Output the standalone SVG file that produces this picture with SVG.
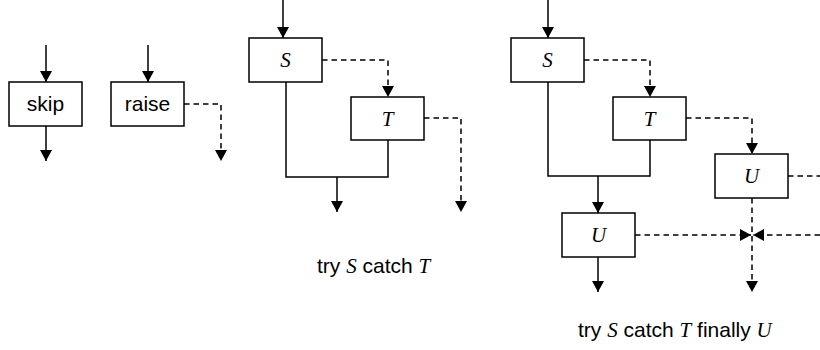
<svg xmlns="http://www.w3.org/2000/svg" width="820" height="350" viewBox="0 0 820 350">
<style>
.box{fill:#fff;stroke:#000;stroke-width:1.5}
.ln{fill:none;stroke:#000;stroke-width:1.5}
.arr{marker-end:url(#ah)}
.dash{stroke-dasharray:5.5,4}
.sans{font-family:"Liberation Sans",Arial,sans-serif;font-size:21px;fill:#000}
.it{font-family:"Liberation Serif","Times New Roman",serif;font-style:italic;font-size:21px;fill:#000}
</style>
<defs>
<marker id="ah" markerUnits="userSpaceOnUse" markerWidth="11.5" markerHeight="12" refX="11" refY="6" orient="auto" viewBox="0 0 11.5 12">
<path d="M0,0 L11,6 L0,12 z" fill="#000"/>
</marker>
</defs>
<g id="connectors">
<line class="ln arr" x1="46" y1="45" x2="46" y2="82"/>
<line class="ln arr" x1="46" y1="126" x2="46" y2="161"/>
<line class="ln arr" x1="148" y1="45" x2="148" y2="82"/>
<polyline class="ln dash arr" points="184,104 221,104 221,161"/>
<line class="ln arr" x1="283" y1="0" x2="283" y2="38"/>
<polyline class="ln dash arr" points="322,60 388,60 388,97"/>
<polyline class="ln dash arr" points="424,118 461,118 461,212"/>
<polyline class="ln" points="286,82 286,177 388,177 388,140"/>
<line class="ln arr" x1="337" y1="177" x2="337" y2="212"/>
<line class="ln arr" x1="548" y1="0" x2="548" y2="38"/>
<polyline class="ln dash arr" points="584,60 650,60 650,97"/>
<polyline class="ln dash arr" points="686,118 752,118 752,154"/>
<polyline class="ln" points="548,82 548,176 650,176 650,140"/>
<line class="ln arr" x1="598" y1="176" x2="598" y2="213"/>
<line class="ln arr" x1="598" y1="257" x2="598" y2="292"/>
<line class="ln dash" x1="788" y1="176" x2="820" y2="176"/>
<line class="ln dash arr" x1="635" y1="235" x2="751" y2="235"/>
<line class="ln dash arr" x1="820" y1="235" x2="753" y2="235"/>
<line class="ln dash arr" x1="752" y1="198" x2="752" y2="292"/>
</g>
<g id="skip"><rect class="box" x="9" y="82" width="73" height="44"/><text class="sans" x="45.5" y="111" text-anchor="middle">skip</text></g>
<g id="raise"><rect class="box" x="111" y="82" width="73" height="44"/><text class="sans" x="147.5" y="111" text-anchor="middle">raise</text></g>
<g id="S1"><rect class="box" x="249" y="38" width="73" height="44"/><text class="it" x="285.5" y="67" text-anchor="middle">S</text></g>
<g id="T1"><rect class="box" x="351" y="97" width="73" height="43"/><text class="it" x="387.5" y="126" text-anchor="middle">T</text></g>
<g id="S2"><rect class="box" x="511" y="38" width="73" height="44"/><text class="it" x="547.5" y="67" text-anchor="middle">S</text></g>
<g id="T2"><rect class="box" x="613" y="97" width="73" height="43"/><text class="it" x="649.5" y="126" text-anchor="middle">T</text></g>
<g id="U1"><rect class="box" x="715" y="154" width="73" height="44"/><text class="it" x="751.5" y="183" text-anchor="middle">U</text></g>
<g id="U2"><rect class="box" x="562" y="213" width="73" height="44"/><text class="it" x="598.5" y="242" text-anchor="middle">U</text></g>
<g id="captions">
<text class="sans" x="317" y="273">try <tspan class="it">S</tspan> catch <tspan class="it">T</tspan></text>
<text class="sans" x="578" y="337">try <tspan class="it">S</tspan> catch <tspan class="it">T</tspan> finally <tspan class="it">U</tspan></text>
</g>
</svg>
